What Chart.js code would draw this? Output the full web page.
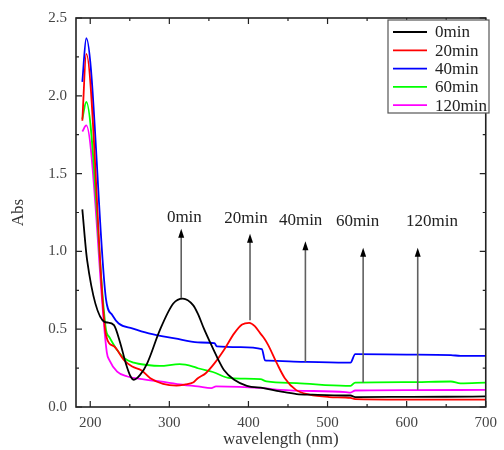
<!DOCTYPE html>
<html>
<head>
<meta charset="utf-8">
<script src="https://cdn.jsdelivr.net/npm/chart.js@4/dist/chart.umd.min.js"></script>
<style>
  html, body { margin: 0; padding: 0; background: #fff; }
  #wrap { width: 504px; height: 450px; }
</style>
</head>
<body>
<div id="wrap"><canvas id="c" width="504" height="450"></canvas></div>
<script>
// UV-Vis absorption spectra recorded at successive reaction times
const seriesLabels = ['0min', '20min', '40min', '60min', '120min'];
const seriesColors = ['#000000', '#ff0000', '#0000ff', '#00ff00', '#ff00ff'];

const wl0  = [190, 196, 218, 222, 230, 238, 245, 251, 255, 263, 272, 288, 305, 317, 330, 336, 344, 352, 361, 369, 382, 398, 419, 440, 461, 481, 523, 529, 535, 600, 650, 700];
const abs0 = [1.27, 0.946, 0.547, 0.543, 0.526, 0.41, 0.28, 0.196, 0.175, 0.206, 0.281, 0.494, 0.665, 0.697, 0.655, 0.60, 0.50, 0.41, 0.313, 0.238, 0.175, 0.136, 0.121, 0.10, 0.083, 0.079, 0.074, 0.074, 0.064, 0.065, 0.066, 0.068];

const wl20  = [190, 195, 220, 230, 243, 253, 265, 276, 292, 309, 320, 330, 336, 346, 357, 369, 382, 392, 401, 408, 415, 420, 425, 436, 446, 460, 477, 502, 523, 529, 535, 600, 650, 700];
const abs20 = [1.84, 2.27, 0.46, 0.39, 0.30, 0.26, 0.235, 0.185, 0.149, 0.138, 0.145, 0.157, 0.185, 0.217, 0.28, 0.366, 0.473, 0.53, 0.541, 0.52, 0.473, 0.44, 0.398, 0.28, 0.185, 0.11, 0.079, 0.064, 0.061, 0.058, 0.051, 0.048, 0.047, 0.047];

const wl40  = [190, 195, 220, 228, 236, 253, 274, 307, 336, 357, 360, 390, 417, 421, 425, 470, 523, 529, 535, 600, 656, 668, 700];
const abs40 = [2.09, 2.37, 0.69, 0.59, 0.537, 0.505, 0.473, 0.441, 0.415, 0.41, 0.39, 0.385, 0.372, 0.30, 0.298, 0.29, 0.285, 0.285, 0.34, 0.337, 0.334, 0.328, 0.328];

const wl60  = [190, 195, 220, 224, 234, 243, 255, 272, 288, 313, 330, 336, 355, 377, 415, 423, 461, 523, 529, 535, 600, 656, 668, 700];
const abs60 = [1.85, 1.96, 0.494, 0.45, 0.366, 0.313, 0.285, 0.27, 0.264, 0.275, 0.26, 0.249, 0.225, 0.185, 0.179, 0.164, 0.153, 0.136, 0.136, 0.157, 0.16, 0.164, 0.152, 0.157];

const wl120  = [190, 195, 221, 224, 234, 247, 263, 288, 317, 336, 353, 359, 419, 440, 523, 529, 535, 600, 700];
const abs120 = [1.77, 1.81, 0.35, 0.303, 0.228, 0.196, 0.181, 0.164, 0.143, 0.132, 0.121, 0.132, 0.121, 0.11, 0.096, 0.093, 0.106, 0.108, 0.11];

// Arrow annotations marking each spectrum
const arrowLabels = ['0min', '20min', '40min', '60min', '120min'];
const arrowWl     = [315, 402, 472, 545, 614];
const arrowBase   = [0.70, 0.558, 0.29, 0.157, 0.11];
const arrowTip    = [1.145, 1.113, 1.065, 1.023, 1.023];
const labelWl     = [319, 397, 466, 538, 632];
const labelAbs    = [1.22, 1.21, 1.20, 1.195, 1.195];

// Axis ranges and tick labels
const xMin = 182, xMax = 700;
const yMin = 0, yMax = 2.5;
const xTickLabels = [200, 300, 400, 500, 600, 700];
const yTickLabels = [0.0, 0.5, 1.0, 1.5, 2.0, 2.5];

const wlSets  = [wl0, wl20, wl40, wl60, wl120];
const absSets = [abs0, abs20, abs40, abs60, abs120];

const SERIF = '"Liberation Serif", "DejaVu Serif", serif';

const datasets = seriesLabels.map((label, i) => ({
  label,
  data: wlSets[i].map((w, k) => ({ x: w, y: absSets[i][k] })),
  borderColor: seriesColors[i],
  backgroundColor: seriesColors[i],
  borderWidth: 1.8,
  pointRadius: 0,
  fill: false,
  cubicInterpolationMode: 'monotone'
}));

// Frame, inward ticks, arrows and legend box
const decorations = {
  id: 'decorations',
  afterDatasetsDraw(chart) {
    const { ctx, chartArea: a, scales } = chart;
    const xs = scales.x, ys = scales.y;
    ctx.save();

    // arrows
    for (let i = 0; i < arrowWl.length; i++) {
      const px = xs.getPixelForValue(arrowWl[i]);
      const yb = ys.getPixelForValue(arrowBase[i]);
      const yt = ys.getPixelForValue(arrowTip[i]);
      ctx.strokeStyle = '#606060';
      ctx.lineWidth = 1.6;
      ctx.beginPath();
      ctx.moveTo(px, yb);
      ctx.lineTo(px, yt + 8);
      ctx.stroke();
      ctx.fillStyle = '#000';
      ctx.beginPath();
      ctx.moveTo(px, yt);
      ctx.lineTo(px - 3, yt + 9);
      ctx.lineTo(px + 3, yt + 9);
      ctx.closePath();
      ctx.fill();
      ctx.font = '17px ' + SERIF;
      ctx.fillStyle = '#222';
      ctx.textAlign = 'center';
      ctx.textBaseline = 'middle';
      ctx.fillText(arrowLabels[i], xs.getPixelForValue(labelWl[i]), ys.getPixelForValue(labelAbs[i]));
    }

    // frame
    ctx.strokeStyle = '#222';
    ctx.lineWidth = 1.6;
    ctx.strokeRect(a.left, a.top, a.right - a.left, a.bottom - a.top);

    // inward ticks
    ctx.lineWidth = 1.2;
    for (let v = 200; v <= xMax; v += 50) {
      const px = xs.getPixelForValue(v);
      const len = v % 100 === 0 ? 6 : 3;
      ctx.beginPath();
      ctx.moveTo(px, a.bottom); ctx.lineTo(px, a.bottom - len);
      ctx.moveTo(px, a.top); ctx.lineTo(px, a.top + len);
      ctx.stroke();
    }
    for (let k = 0; k <= 10; k++) {
      const v = k * 0.25;
      const py = ys.getPixelForValue(v);
      const len = k % 2 === 0 ? 6 : 3;
      ctx.beginPath();
      ctx.moveTo(a.left, py); ctx.lineTo(a.left + len, py);
      ctx.moveTo(a.right, py); ctx.lineTo(a.right - len, py);
      ctx.stroke();
    }

    // legend
    const lx = 388, ly = 20, lw = 101, lh = 93;
    ctx.fillStyle = '#fff';
    ctx.fillRect(lx, ly, lw, lh);
    ctx.strokeStyle = '#555';
    ctx.lineWidth = 1.2;
    ctx.strokeRect(lx, ly, lw, lh);
    ctx.font = '17px ' + SERIF;
    ctx.textAlign = 'left';
    ctx.textBaseline = 'middle';
    chart.data.datasets.forEach((ds, i) => {
      const y = 32 + i * 18.3;
      ctx.strokeStyle = ds.borderColor;
      ctx.lineWidth = 1.8;
      ctx.beginPath();
      ctx.moveTo(393, y); ctx.lineTo(427, y);
      ctx.stroke();
      ctx.fillStyle = '#222';
      ctx.fillText(ds.label, 435, y + 1);
    });

    ctx.restore();
  }
};

new Chart(document.getElementById('c'), {
  type: 'line',
  data: { datasets },
  options: {
    responsive: false,
    animation: false,
    events: [],
    layout: { padding: { top: 16, right: 12, left: 0, bottom: 0 } },
    plugins: { legend: { display: false }, tooltip: { enabled: false } },
    scales: {
      x: {
        type: 'linear',
        min: xMin, max: xMax,
        afterFit(s) { s.height = 43; },
        afterBuildTicks(s) { s.ticks = xTickLabels.map(v => ({ value: v })); },
        grid: { display: false, drawTicks: false },
        border: { display: false },
        ticks: {
          padding: 7,
          color: '#444',
          font: { family: SERIF, size: 15 },
          maxRotation: 0,
          callback: v => String(v)
        },
        title: {
          display: true,
          text: 'wavelength (nm)',
          color: '#333',
          font: { family: SERIF, size: 17 },
          padding: { top: 0, bottom: 0 }
        }
      },
      y: {
        type: 'linear',
        min: yMin, max: yMax,
        afterFit(s) { s.width = 76; },
        afterBuildTicks(s) { s.ticks = yTickLabels.map(v => ({ value: v })); },
        grid: { display: false, drawTicks: false },
        border: { display: false },
        ticks: {
          padding: 9,
          color: '#444',
          font: { family: SERIF, size: 15 },
          callback: v => Number(v).toFixed(1)
        },
        title: {
          display: true,
          text: 'Abs',
          color: '#333',
          font: { family: SERIF, size: 17 },
          padding: { top: 8, bottom: 0 }
        }
      }
    }
  },
  plugins: [decorations]
});
</script>
</body>
</html>
